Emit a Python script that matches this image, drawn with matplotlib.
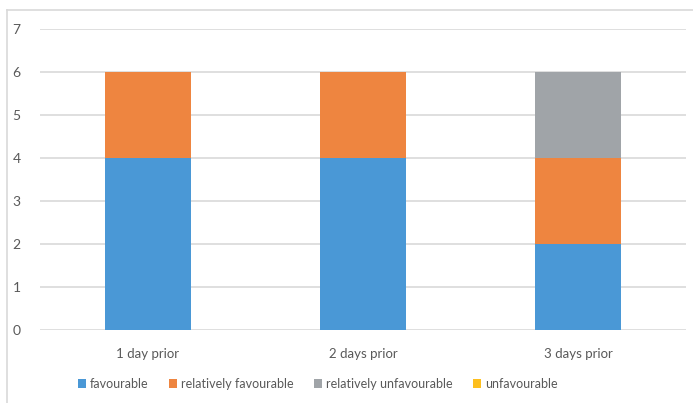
import matplotlib
matplotlib.use("Agg")
import matplotlib.pyplot as plt
from matplotlib.lines import Line2D
from matplotlib.patches import Patch
import numpy as np

categories = ["1 day prior", "2 days prior", "3 days prior"]
series_names = ["favourable", "relatively favourable", "relatively unfavourable", "unfavourable"]
favourable = [4, 4, 2]
relatively_favourable = [2, 2, 2]
relatively_unfavourable = [0, 0, 2]
unfavourable = [0, 0, 0]
y_ticks = [0, 1, 2, 3, 4, 5, 6, 7]

colors = ["#4a98d6", "#ee8540", "#a0a4a8", "#fdbf1e"]
text_color = "#595959"
grid_color = "#d9d9d9"

plt.rcParams["font.family"] = ["Lato", "DejaVu Sans"]

fig = plt.figure(figsize=(6.93, 4.03), dpi=100)
ax = fig.add_axes([40 / 693, 1 - 330 / 403, 646 / 693, 301 / 403])

x = np.arange(len(categories))
bottom = np.zeros(len(categories))
for vals, name, col in zip([favourable, relatively_favourable, relatively_unfavourable, unfavourable],
                           series_names, colors):
    ax.bar(x, vals, width=0.4, bottom=bottom, color=col, label=name, zorder=3)
    bottom += np.array(vals)

ax.set_xlim(-0.5, len(categories) - 0.5)
ax.set_ylim(0, 7)
ax.set_yticks(y_ticks)
ax.set_xticks(x)
ax.set_xticklabels(categories)
ax.tick_params(axis="y", length=0, colors=text_color, labelsize=10, pad=14)
ax.tick_params(axis="x", length=0, colors=text_color, labelsize=9.5, pad=13)
ax.yaxis.grid(True, color=grid_color, linewidth=1.2, zorder=0)
for s in ax.spines.values():
    s.set_visible(False)

handles = [Patch(facecolor=c, edgecolor="none") for c in colors]
fig.legend(handles, series_names, loc="center", bbox_to_anchor=(318 / 693, 1 - 384 / 403),
           ncol=4, frameon=False, fontsize=9, labelcolor=text_color,
           handlelength=0.65, handleheight=0.65, handletextpad=0.35, columnspacing=1.6)

# chart-area frame
fig.add_artist(Line2D([7 / 693, 1.0], [1 - 10 / 403] * 2, color="#d9d9d9", linewidth=1.2,
                      transform=fig.transFigure))
fig.add_artist(Line2D([7 / 693] * 2, [0.0, 1 - 10 / 403], color="#d9d9d9", linewidth=1.2,
                      transform=fig.transFigure))

fig.savefig("out.png", dpi=100, facecolor="white")
